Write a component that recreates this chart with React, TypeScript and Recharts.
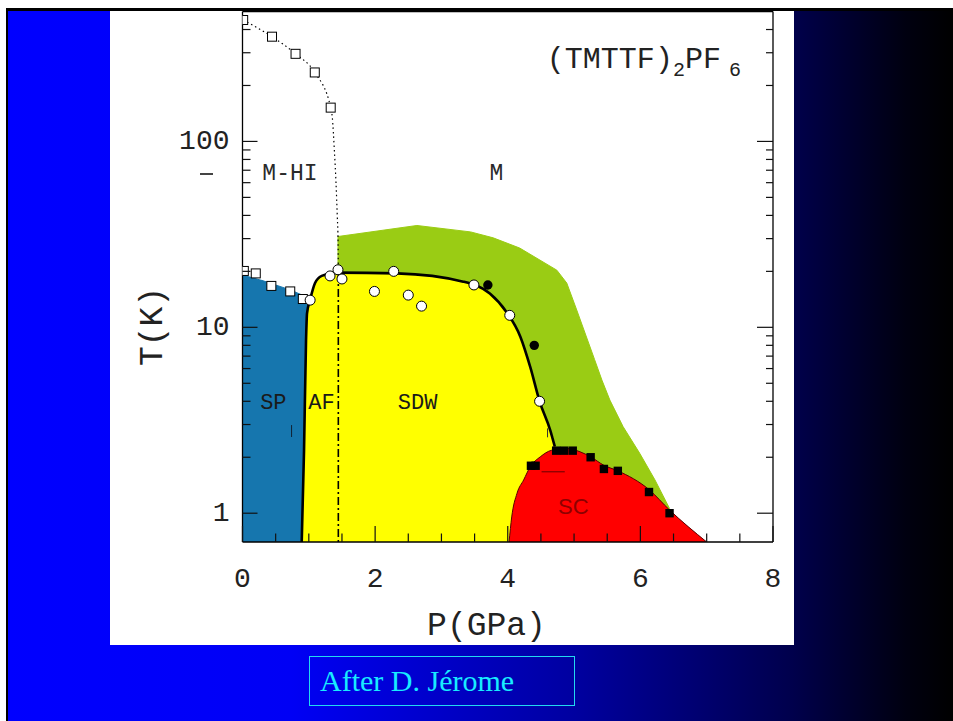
import React from "react";
import { ComposedChart, Scatter, XAxis, YAxis, ReferenceLine } from "recharts";

type Pt = { p: number; t: number };
type Tag = Pt & { name: string };

// axis ticks: pressure in GPa, temperature in K on a log axis
const pTicks = [0, 0.5, 1, 1.5, 2, 2.5, 3, 3.5, 4, 4.5, 5, 5.5, 6, 6.5, 7, 7.5, 8];
const pLabels = [0, 2, 4, 6, 8];
const tTicks = [1, 2, 3, 4, 5, 6, 7, 8, 9, 10, 20, 30, 40, 50, 60, 70, 80, 90, 100, 200, 300, 400];
const tLabels = [1, 10, 100];

// spin-Peierls pocket
const spRegion: Pt[] = [
  { p: 0, t: 0.7 }, { p: 0, t: 19.1 }, { p: 0.31, t: 17.8 }, { p: 0.72, t: 15.9 },
  { p: 0.94, t: 14.7 }, { p: 1.0, t: 14.2 }, { p: 0.973, t: 11.9 }, { p: 0.958, t: 8.5 },
  { p: 0.928, t: 2.18 }, { p: 0.893, t: 0.7 },
];

// AF / SDW boundary (thick line)
const sdwLine: Pt[] = [
  { p: 0.893, t: 0.7 }, { p: 0.928, t: 2.18 }, { p: 0.958, t: 8.5 }, { p: 0.973, t: 11.9 },
  { p: 1.018, t: 14.0 }, { p: 1.094, t: 17.3 }, { p: 1.195, t: 18.9 }, { p: 1.42, t: 19.7 },
  { p: 2.33, t: 19.5 }, { p: 3.33, t: 17.6 }, { p: 3.73, t: 15.2 }, { p: 3.98, t: 12.1 },
  { p: 4.19, t: 8.9 }, { p: 4.34, t: 6.1 }, { p: 4.48, t: 4.0 }, { p: 4.64, t: 2.8 },
  { p: 4.71, t: 2.28 },
];
const sdwRegion: Pt[] = [...sdwLine, { p: 4.76, t: 0.7 }];

// fluctuation (green) region above the SDW / SC domes
const flucRegion: Pt[] = [
  { p: 1.44, t: 10 }, { p: 1.44, t: 30.8 }, { p: 2.63, t: 35.3 }, { p: 3.44, t: 32.6 },
  { p: 3.78, t: 30.3 }, { p: 4.18, t: 26.7 }, { p: 4.74, t: 20.3 }, { p: 4.89, t: 17.3 },
  { p: 5.04, t: 12.4 }, { p: 5.31, t: 6.7 }, { p: 5.42, t: 5.2 }, { p: 5.54, t: 4.06 },
  { p: 5.74, t: 2.92 }, { p: 5.99, t: 2.1 }, { p: 6.22, t: 1.51 }, { p: 6.44, t: 1.06 },
  { p: 4.5, t: 1.0 },
];

// superconducting dome
const scRegion: Pt[] = [
  { p: 4.02, t: 0.7 }, { p: 4.06, t: 0.955 }, { p: 4.14, t: 1.28 }, { p: 4.24, t: 1.51 },
  { p: 4.34, t: 1.78 }, { p: 4.49, t: 2.01 }, { p: 4.66, t: 2.18 }, { p: 4.89, t: 2.23 },
  { p: 5.09, t: 2.14 }, { p: 5.25, t: 2.01 }, { p: 5.45, t: 1.81 }, { p: 5.66, t: 1.69 },
  { p: 6.13, t: 1.34 }, { p: 6.44, t: 1.04 }, { p: 7.0, t: 0.7 },
];

// metal / high-T insulator crossover (dotted)
const mhiLine: Pt[] = [
  { p: 0.01, t: 450 }, { p: 0.445, t: 366 }, { p: 0.8, t: 296 }, { p: 1.09, t: 235 },
  { p: 1.33, t: 152 }, { p: 1.354, t: 135 }, { p: 1.385, t: 90 }, { p: 1.41, t: 60 },
  { p: 1.43, t: 39 }, { p: 1.44, t: 30.6 }, { p: 1.445, t: 19.6 },
];

// measured points
const mhiSquares: Pt[] = [
  { p: 0.01, t: 450 }, { p: 0.445, t: 366 }, { p: 0.8, t: 296 }, { p: 1.09, t: 235 }, { p: 1.33, t: 152 },
];
const spSquares: Pt[] = [
  { p: 0.02, t: 20.1 }, { p: 0.2, t: 19.5 }, { p: 0.435, t: 16.7 }, { p: 0.72, t: 15.6 }, { p: 0.91, t: 14.2 },
];
const openCircles: Pt[] = [
  { p: 1.02, t: 14.0 }, { p: 1.32, t: 18.9 }, { p: 1.44, t: 20.4 }, { p: 1.5, t: 18.2 },
  { p: 1.99, t: 15.6 }, { p: 2.28, t: 20.0 }, { p: 2.5, t: 14.9 }, { p: 2.7, t: 13.0 },
  { p: 3.49, t: 16.9 }, { p: 4.03, t: 11.6 }, { p: 4.48, t: 4.0 },
];
const filledCircles: Pt[] = [{ p: 3.7, t: 16.9 }, { p: 4.4, t: 8.0 }];
const scSquares: Pt[] = [
  { p: 4.35, t: 1.8 }, { p: 4.42, t: 1.8 }, { p: 4.73, t: 2.17 }, { p: 4.85, t: 2.17 },
  { p: 4.98, t: 2.17 }, { p: 5.25, t: 2.0 }, { p: 5.45, t: 1.73 }, { p: 5.66, t: 1.69 },
  { p: 6.13, t: 1.3 }, { p: 6.44, t: 1.0 },
];

const monoTags: Tag[] = [
  { p: 0.716, t: 67, name: "M-HI" },
  { p: 3.83, t: 67, name: "M" },
];
const domeTags: Tag[] = [
  { p: 0.465, t: 3.9, name: "SP" },
  { p: 1.19, t: 3.9, name: "AF" },
  { p: 2.64, t: 3.9, name: "SDW" },
];
const scTag: Tag[] = [{ p: 4.99, t: 1.08, name: "SC" }];
const titleAt: Pt[] = [{ p: 4.59, t: 248 }];

const MONO = "'Liberation Mono', 'DejaVu Sans Mono', monospace";
const BLUE = "#1676ae";
const YELLOW = "#ffff00";
const GREEN = "#9acc14";
const RED = "#ff0000";
const INK = "#1a1a1a";

// paint order: fills < guide lines < boundaries < frame < markers < text
const Z_FILL = 100;
const Z_GUIDE = 200;
const Z_CURVE = 300;
const Z_AXIS = 350;
const Z_MARK = 400;
const Z_TEXT = 600;

const noPoint = () => <g />;

const OpenSquare = (props: any) => (
  <rect x={props.cx - 4.5} y={props.cy - 4.5} width={9} height={9} fill="#fff" stroke="#000" strokeWidth={1} />
);
const FilledSquare = (props: any) => (
  <rect x={props.cx - 4.2} y={props.cy - 4.2} width={8.4} height={8.4} fill="#000" />
);
const OpenCircle = (props: any) => (
  <circle cx={props.cx} cy={props.cy} r={5} fill="#fff" stroke="#000" strokeWidth={1} />
);
const FilledCircle = (props: any) => <circle cx={props.cx} cy={props.cy} r={4.7} fill="#000" />;

const MonoTag = (props: any) => (
  <text x={props.cx} y={props.cy} textAnchor="middle" dominantBaseline="central" fontFamily={MONO} fontSize={23} fill="#2a2a2a">
    {props.payload.name}
  </text>
);
const DomeTag = (props: any) => (
  <text x={props.cx} y={props.cy} textAnchor="middle" dominantBaseline="central" fontFamily={MONO} fontSize={22} fill={INK}>
    {props.payload.name}
  </text>
);
const ScTag = (props: any) => (
  <text x={props.cx} y={props.cy} textAnchor="middle" dominantBaseline="central" fontFamily="'Liberation Sans', Arial, sans-serif" fontSize={22} fill="#8e0000">
    {props.payload.name}
  </text>
);
const Title = (props: any) => (
  <text x={props.cx} y={props.cy} fontFamily={MONO} fontSize={30} fill="#222">
    (TMTTF)
    <tspan fontSize={20} dy={8}>2</tspan>
    <tspan dy={-8}>PF</tspan>
    <tspan fontSize={20} dx={8} dy={8}>6</tspan>
  </text>
);

// inward-pointing frame ticks
const BottomTick = (props: any) => {
  const { x, y, payload } = props;
  const major = pLabels.includes(payload.value);
  return (
    <g>
      <line x1={x} y1={y} x2={x} y2={y - (major ? 16 : 8.5)} stroke="#111" strokeWidth={1.2} />
      {major && (
        <text x={x} y={y + 44.5} textAnchor="middle" fontFamily={MONO} fontSize={28} fill="#222">
          {payload.value}
        </text>
      )}
    </g>
  );
};
const TopTick = (props: any) => {
  const { x, y, payload } = props;
  const major = pLabels.includes(payload.value);
  return <line x1={x} y1={y} x2={x} y2={y + (major ? 16 : 8)} stroke="#111" strokeWidth={1.2} />;
};
const LeftTick = (props: any) => {
  const { x, y, payload } = props;
  const major = tLabels.includes(payload.value);
  return (
    <g>
      <line x1={x} y1={y} x2={x + (major ? 15 : 8)} y2={y} stroke="#111" strokeWidth={1.2} />
      {major && (
        <text x={x - 13} y={y + 8} textAnchor="end" fontFamily={MONO} fontSize={28} fill="#222">
          {payload.value}
        </text>
      )}
    </g>
  );
};
const RightTick = (props: any) => {
  const { x, y, payload } = props;
  const major = tLabels.includes(payload.value);
  return <line x1={x - (major ? 16 : 7)} y1={y} x2={x} y2={y} stroke="#111" strokeWidth={1.2} />;
};

const XTitle = (props: any) => {
  const vb = props.viewBox ?? { x: 132.5, y: 542 };
  return (
    <text x={vb.x + 244} y={vb.y + 93} textAnchor="middle" fontFamily={MONO} fontSize={33} fill="#222">
      P(GPa)
    </text>
  );
};
const YTitle = (props: any) => {
  const vb = props.viewBox ?? { x: 0, y: 11.5 };
  const cx = vb.x + 43;
  const cy = vb.y + 315;
  return (
    <text x={cx} y={cy} transform={`rotate(-90 ${cx} ${cy})`} textAnchor="middle" dominantBaseline="central" fontFamily={MONO} fontSize={33} fill="#222">
      T(K)
    </text>
  );
};

const frame = { stroke: "#000", strokeWidth: 1.3 };

export default function App() {
  return (
    <div style={{ position: "absolute", left: 0, top: 0, width: 953, height: 721, background: "#fff", overflow: "hidden" }}>
      <div
        style={{
          position: "absolute", left: 6, top: 8, width: 947, height: 713, boxSizing: "border-box",
          borderTop: "3px solid #000", borderLeft: "2px solid #000",
          background: "linear-gradient(to right, #0000ff 0%, #0000f5 30%, #0000a0 60%, #00004c 83%, #000010 95%, #000000 100%)",
        }}
      />
      <div style={{ position: "absolute", left: 110, top: 11, width: 684, height: 634, background: "#fff" }} />
      <div style={{ position: "absolute", left: 200, top: 173, width: 13, height: 1.5, background: "#444" }} />
      <div style={{ position: "absolute", left: 110, top: 0 }}>
        <ComposedChart width={684} height={645} margin={{ top: 1.5, right: 0, bottom: 0, left: 0 }}>
          <Scatter zIndex={Z_FILL} data={flucRegion} fill={GREEN} line={{ fill: GREEN, stroke: GREEN }} lineType="joint" lineJointType="linear" shape={noPoint} isAnimationActive={false} />
          <Scatter zIndex={Z_FILL + 1} data={sdwRegion} fill={YELLOW} line={{ fill: YELLOW, stroke: YELLOW }} lineType="joint" lineJointType="monotone" shape={noPoint} isAnimationActive={false} />
          <Scatter zIndex={Z_FILL + 2} data={scRegion} fill={RED} line={{ fill: RED, stroke: "#5a0000", strokeWidth: 1 }} lineType="joint" lineJointType="monotone" shape={noPoint} isAnimationActive={false} />
          <Scatter zIndex={Z_FILL + 3} data={spRegion} fill={BLUE} line={{ fill: BLUE, stroke: BLUE }} lineType="joint" lineJointType="linear" shape={noPoint} isAnimationActive={false} />

          <ReferenceLine zIndex={Z_GUIDE} segment={[{ x: 1.445, y: 19.6 }, { x: 1.445, y: 0.7 }]} stroke="#000" strokeWidth={1.6} strokeDasharray="8 3 2 3" ifOverflow="hidden" />
          <ReferenceLine zIndex={Z_GUIDE} segment={[{ x: 0.74, y: 2.98 }, { x: 0.74, y: 2.57 }]} stroke="#123" strokeWidth={1} ifOverflow="hidden" />
          <ReferenceLine zIndex={Z_GUIDE} segment={[{ x: 4.51, y: 1.67 }, { x: 4.86, y: 1.67 }]} stroke="#600" strokeWidth={1} ifOverflow="hidden" />
          <ReferenceLine zIndex={Z_GUIDE} segment={[{ x: 4.6, y: 2.86 }, { x: 4.6, y: 2.56 }]} stroke="#333" strokeWidth={1} ifOverflow="hidden" />

          <Scatter zIndex={Z_CURVE} data={mhiLine} fill="#000" line={{ stroke: "#000", strokeWidth: 1.2, strokeDasharray: "1.5 3", fill: "none" }} lineType="joint" lineJointType="monotone" shape={noPoint} isAnimationActive={false} />
          <Scatter zIndex={Z_CURVE} data={sdwLine} fill="#000" line={{ stroke: "#000", strokeWidth: 2.6, fill: "none" }} lineType="joint" lineJointType="monotone" shape={noPoint} isAnimationActive={false} />

          <Scatter zIndex={Z_MARK} data={mhiSquares} shape={OpenSquare} isAnimationActive={false} />
          <Scatter zIndex={Z_MARK} data={spSquares} shape={OpenSquare} isAnimationActive={false} />
          <Scatter zIndex={Z_MARK} data={openCircles} shape={OpenCircle} isAnimationActive={false} />
          <Scatter zIndex={Z_MARK} data={filledCircles} shape={FilledCircle} isAnimationActive={false} />
          <Scatter zIndex={Z_MARK} data={scSquares} shape={FilledSquare} isAnimationActive={false} />

          <Scatter zIndex={Z_TEXT} data={monoTags} shape={MonoTag} isAnimationActive={false} />
          <Scatter zIndex={Z_TEXT} data={domeTags} shape={DomeTag} isAnimationActive={false} />
          <Scatter zIndex={Z_TEXT} data={scTag} shape={ScTag} isAnimationActive={false} />
          <Scatter zIndex={Z_TEXT} data={titleAt} shape={Title} isAnimationActive={false} />

          <XAxis zIndex={Z_AXIS} dataKey="p" type="number" domain={[0, 8]} allowDataOverflow ticks={pTicks} interval={0}
            tickSize={0} tickMargin={0} tick={BottomTick} tickLine={false} axisLine={frame} height={103}
            label={{ content: XTitle }} />
          <XAxis zIndex={Z_AXIS} xAxisId="top" orientation="top" type="number" domain={[0, 8]} allowDataOverflow ticks={pTicks} interval={0}
            tickSize={0} tickMargin={0} tick={TopTick} tickLine={false} axisLine={frame} height={10} />
          <YAxis zIndex={Z_AXIS} dataKey="t" type="number" scale="log" domain={[0.7, 500]} allowDataOverflow ticks={tTicks} interval={0}
            tickSize={0} tickMargin={0} tick={LeftTick} tickLine={false} axisLine={frame} width={132.5}
            label={{ content: YTitle }} />
          <YAxis zIndex={Z_AXIS} yAxisId="right" orientation="right" type="number" scale="log" domain={[0.7, 500]} allowDataOverflow ticks={tTicks} interval={0}
            tickSize={0} tickMargin={0} tick={RightTick} tickLine={false} axisLine={frame} width={21} />
        </ComposedChart>
      </div>
      <div
        style={{
          position: "absolute", left: 309, top: 656, width: 266, height: 50, boxSizing: "border-box",
          border: "1.5px solid #22d8f0", color: "#18ecff", fontFamily: "'Liberation Serif', 'Times New Roman', serif",
          fontSize: 30, lineHeight: "47px", paddingLeft: 10, whiteSpace: "nowrap",
        }}
      >
        After D. Jérome
      </div>
    </div>
  );
}
